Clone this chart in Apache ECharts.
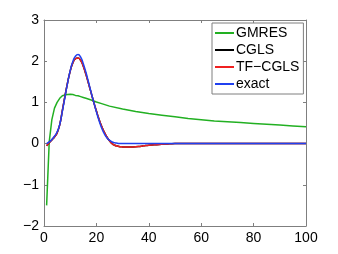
<!DOCTYPE html>
<html><head><meta charset="utf-8">
<script src="https://cdn.jsdelivr.net/npm/echarts@6/dist/echarts.min.js"></script>
<style>html,body{margin:0;padding:0;background:#fff}#c{width:338px;height:254px}</style>
</head><body><div id="c"></div>
<script>
var xTicks = [0, 20, 40, 60, 80, 100];
var yTicks = [-2, -1, 0, 1, 2, 3];
var seriesNames = ['GMRES', 'CGLS', 'TF\u2212CGLS', 'exact'];

var xGmres = [1,2,3,4,5,6,7,8,9,10,11,12,13,14,15,16,18,20,22,25,30,35,40,45,50,55,60,65,70,75,80,85,90,95,100];
var yGmres = [-1.5,0.05,0.58,0.86,1.0,1.1,1.16,1.18,1.19,1.2,1.19,1.17,1.16,1.14,1.12,1.1,1.06,1.01,0.97,0.91,0.84,0.78,0.73,0.69,0.65,0.61,0.58,0.55,0.53,0.51,0.49,0.47,0.45,0.43,0.41];

var xSol = [1,2,3,4,5,6,7,8,9,10,11,12,13,14,15,16,17,18,19,20,21,22,23,24,25,26,27,28,29,30,32,34,36,38,40,42,44,46,48,50,60,70,80,90,100];
var yCgls = [-0.05,0.02,0.09,0.16,0.26,0.46,0.8,1.15,1.48,1.76,1.96,2.06,2.08,2.02,1.88,1.68,1.46,1.23,1.0,0.79,0.59,0.42,0.28,0.16,0.07,0.0,-0.04,-0.06,-0.075,-0.08,-0.085,-0.08,-0.07,-0.055,-0.04,-0.03,-0.02,-0.01,-0.005,0,0,0,0,0,0];
var yTfcgls = [-0.05,0.02,0.09,0.16,0.26,0.46,0.8,1.15,1.48,1.76,1.96,2.06,2.08,2.02,1.88,1.68,1.46,1.23,1.0,0.79,0.59,0.42,0.28,0.16,0.07,0.0,-0.04,-0.06,-0.075,-0.08,-0.085,-0.08,-0.07,-0.055,-0.04,-0.03,-0.02,-0.01,-0.005,0,0,0,0,0,0];
var yExact = [0.0,0.04,0.1,0.18,0.28,0.46,0.78,1.13,1.47,1.77,1.99,2.12,2.16,2.1,1.94,1.73,1.49,1.24,1.0,0.77,0.56,0.38,0.24,0.14,0.08,0.04,0.02,0.01,0.0,0,0,0,0,0,0,0,0,0,0,0,0,0,0,0,0];

function pairs(xs, ys){ return xs.map(function(x,i){ return [x, ys[i]]; }); }
var FONT = 'Liberation Sans, Arial, Helvetica, sans-serif';
var AX = '#7f7f7f';
function fmt(v){ return v < 0 ? '\u2212' + Math.abs(v) : String(v); }

var baseX = {type:'value', min:xTicks[0], max:xTicks[xTicks.length-1], interval:20,
  axisLine:{show:true, onZero:false, lineStyle:{color:AX, width:1}},
  axisTick:{show:true, inside:true, length:3, lineStyle:{color:AX}},
  splitLine:{show:false}};
var baseY = {type:'value', min:yTicks[0], max:yTicks[yTicks.length-1], interval:1,
  axisLine:{show:true, onZero:false, lineStyle:{color:AX, width:1}},
  axisTick:{show:true, inside:true, length:3, lineStyle:{color:AX}},
  splitLine:{show:false}};

var chart = echarts.init(document.getElementById('c'), null, {renderer:'canvas'});
chart.setOption({
  animation:false,
  backgroundColor:'#fff',
  grid:{left:44, right:32, top:20, bottom:28, containLabel:false},
  xAxis:[
    Object.assign({}, baseX, {position:'bottom', axisLabel:{show:true, color:'#000', fontSize:14, fontFamily:FONT, margin:5, formatter:fmt}}),
    Object.assign({}, baseX, {position:'top', axisLabel:{show:false}})
  ],
  yAxis:[
    Object.assign({}, baseY, {position:'left', axisLabel:{show:true, color:'#000', fontSize:14, fontFamily:FONT, margin:5, formatter:fmt}}),
    Object.assign({}, baseY, {position:'right', axisLabel:{show:false}})
  ],
  legend:{
    show:true, orient:'vertical', left:212, top:23,
    data:seriesNames,
    icon:'rect', itemWidth:19, itemHeight:2, itemGap:3,
    padding:[3,4,3,3],
    backgroundColor:'#fff', borderColor:AX, borderWidth:1, borderRadius:0,
    textStyle:{color:'#000', fontSize:14, fontFamily:FONT, lineHeight:14, padding:[0,0,0,-3]}
  },
  series:[
    {name:seriesNames[0], type:'line', data:pairs(xGmres,yGmres), showSymbol:false, symbol:'none', smooth:false,
      lineStyle:{color:'#22b022', width:1.5}, itemStyle:{color:'#22b022'}},
    {name:seriesNames[1], type:'line', data:pairs(xSol,yCgls), showSymbol:false, symbol:'none', smooth:true,
      lineStyle:{color:'#000', width:1.5}, itemStyle:{color:'#000'}},
    {name:seriesNames[2], type:'line', data:pairs(xSol,yTfcgls), showSymbol:false, symbol:'none', smooth:true,
      lineStyle:{color:'#f02020', width:1.5}, itemStyle:{color:'#f02020'}},
    {name:seriesNames[3], type:'line', data:pairs(xSol,yExact), showSymbol:false, symbol:'none', smooth:true,
      lineStyle:{color:'#2040f0', width:1.5}, itemStyle:{color:'#2040f0'}}
  ]
});
</script></body></html>
